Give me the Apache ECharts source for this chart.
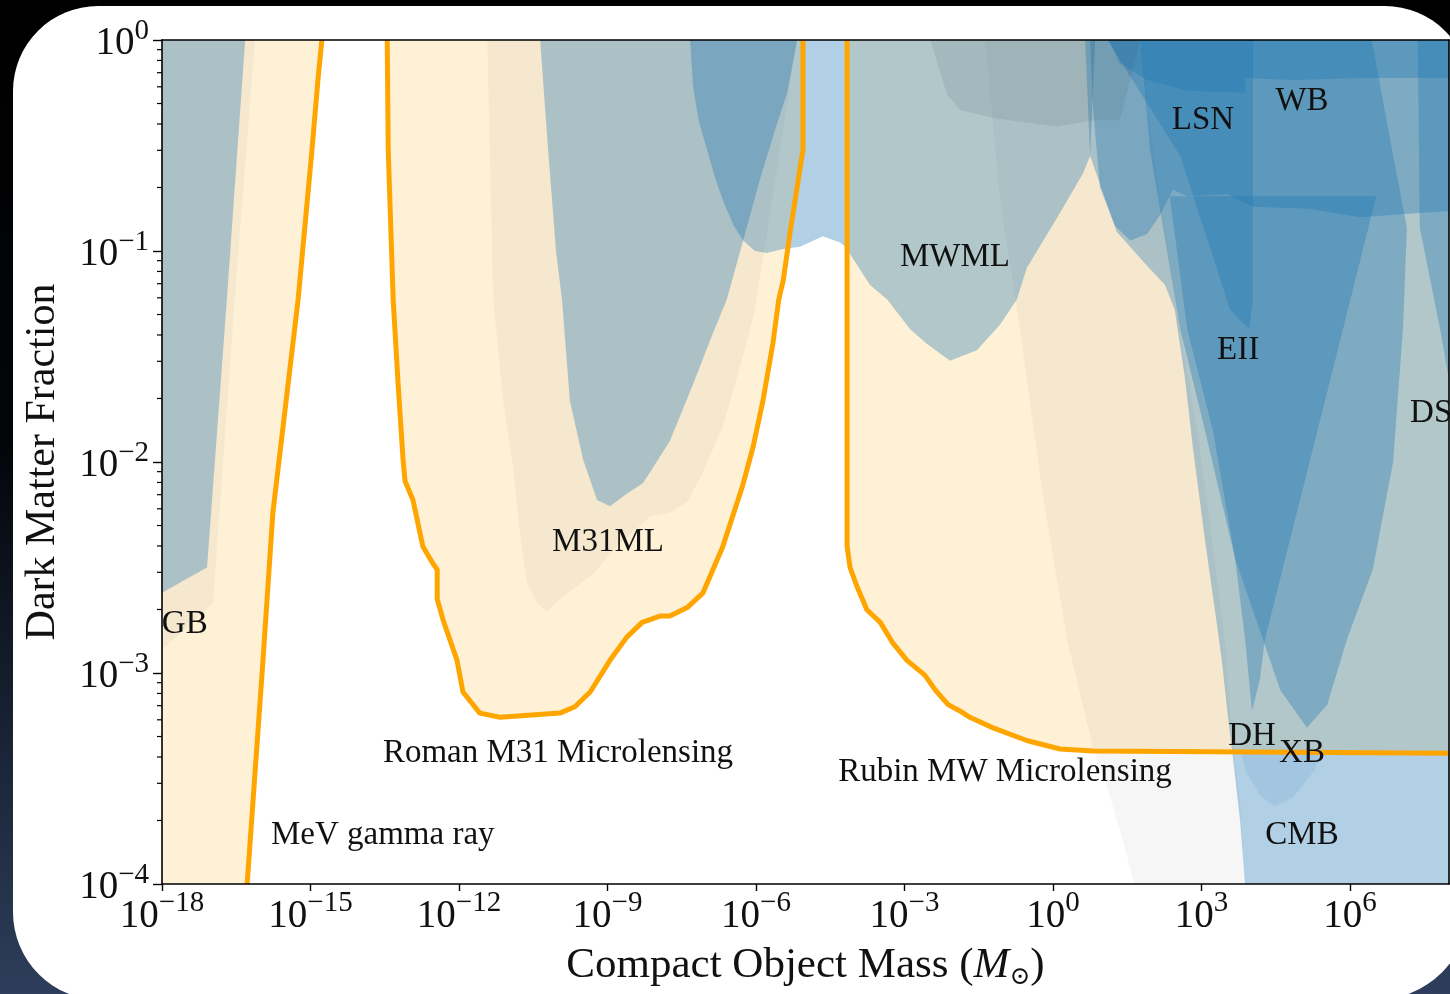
<!DOCTYPE html>
<html><head><meta charset="utf-8">
<script src="https://cdn.jsdelivr.net/npm/echarts@6/dist/echarts.min.js"></script>
<style>html,body{margin:0;padding:0;background:#000;overflow:hidden}#c{width:1450px;height:994px}</style>
</head><body><div id="c"></div>
<script>
// ---- data (log10 of compact-object mass [M_sun], log10 of dark-matter fraction) ----
const xTickValues = [-18, -15, -12, -9, -6, -3, 0, 3, 6];
const yTickValues = [-4, -3, -2, -1, 0];

// projection curves (orange)
const gammaMass = [-16.28, -15.96, -15.76, -15.25, -14.97, -14.85, -14.77];
const gammaFrac = [-4, -2.94, -2.24, -1.23, -0.52, -0.19, 0];

const romanMass = [-13.45, -13.43, -13.33, -13.23, -13.13, -13.09, -12.93, -12.73, -12.53, -12.44, -12.44, -12.32, -12.04, -11.92, -11.58, -11.17, -9.96, -9.66, -9.35, -8.95, -8.61, -8.30, -7.94, -7.74, -7.39, -7.07, -6.67, -6.28, -6.06, -5.86, -5.66, -5.54, -5.45, -5.31, -5.17, -5.05, -5.05];
const romanFrac = [0, -0.52, -1.23, -1.63, -1.99, -2.09, -2.18, -2.40, -2.48, -2.51, -2.65, -2.75, -2.94, -3.09, -3.19, -3.21, -3.19, -3.16, -3.09, -2.94, -2.83, -2.76, -2.73, -2.73, -2.69, -2.62, -2.40, -2.12, -1.93, -1.71, -1.44, -1.23, -1.14, -0.91, -0.70, -0.52, 0];

const rubinMass = [-4.16, -4.16, -4.10, -3.96, -3.76, -3.49, -3.23, -2.95, -2.59, -2.38, -2.12, -1.88, -1.68, -1.21, -0.53, 0.14, 0.81, 8];
const rubinFrac = [0, -2.40, -2.50, -2.59, -2.70, -2.76, -2.86, -2.94, -3.01, -3.08, -3.15, -3.18, -3.21, -3.26, -3.32, -3.36, -3.37, -3.38];

// existing constraints (blue), as [log mass, log fraction] outlines
const regionGB = [[-18, 0], [-16.32, 0], [-16.69, -1.23], [-17.09, -2.50], [-18, -2.62]];
const regionM31ML = [[-10.36, 0], [-10.20, -0.52], [-10.04, -1.0], [-9.92, -1.23], [-9.76, -1.71], [-9.49, -1.99], [-9.21, -2.18], [-8.95, -2.21], [-8.61, -2.15], [-8.28, -2.10], [-7.74, -1.90], [-7.27, -1.63], [-6.87, -1.39], [-6.59, -1.23], [-6.26, -0.95], [-5.92, -0.66], [-5.62, -0.43], [-5.37, -0.25], [-5.17, 0]];
const regionHSC = [[-7.33, 0], [-7.30, -0.12], [-7.27, -0.22], [-7.16, -0.38], [-6.99, -0.52], [-6.83, -0.65], [-6.67, -0.76], [-6.45, -0.88], [-6.26, -0.95], [-6.02, -1.00], [-5.78, -1.01], [-5.45, -0.99], [-5.11, -0.98], [-4.65, -0.93], [-4.30, -0.96], [-4.14, -0.99], [-4.14, 0]];
const regionMWML = [[-4.14, 0], [-4.14, -1.0], [-3.70, -1.16], [-3.35, -1.23], [-2.89, -1.37], [-2.55, -1.44], [-2.08, -1.52], [-1.54, -1.47], [-1.07, -1.35], [-0.73, -1.23], [-0.53, -1.08], [0.14, -0.82], [0.61, -0.63], [0.75, -0.55], [0.85, 0]];
const regionCMB = [[0.65, 0], [0.75, -0.55], [1.29, -0.91], [1.90, -1.07], [2.26, -1.16], [2.46, -1.28], [2.67, -1.61], [2.83, -1.94], [3.07, -2.37], [3.27, -2.70], [3.41, -2.94], [3.54, -3.22], [3.64, -3.41], [3.78, -3.70], [3.88, -4], [8, -4], [8, 0]];
const regionXB = [[1.76, 0], [1.96, -0.52], [2.57, -1.37], [3.07, -1.85], [3.68, -2.46], [4.24, -2.84], [4.59, -3.08], [5.13, -3.26], [5.54, -3.15], [5.94, -2.84], [6.46, -2.51], [6.87, -2.00], [7.07, -1.37], [7.15, -0.89], [6.81, -0.47], [6.44, 0]];
const regionEII = [[2.36, -0.74], [2.71, -1.37], [3.23, -1.85], [3.68, -2.46], [3.88, -2.84], [4.02, -3.18], [4.18, -3.03], [4.28, -2.84], [4.99, -2.18], [5.86, -1.37], [6.53, -0.74]];
const regionLSN = [[1.10, 0], [2.57, -0.55], [3.58, -1.28], [3.96, -1.37], [4.04, -1.23], [4.04, 0]];
const regionWB = [[0.75, 0], [0.81, -0.33], [0.95, -0.70], [1.25, -0.88], [1.56, -0.95], [1.90, -0.92], [2.16, -0.83], [2.42, -0.71], [2.71, -0.74], [3.52, -0.73], [4.04, -0.79], [5.19, -0.80], [6.20, -0.84], [8, -0.81], [8, 0]];
const regionTop = [[1.10, 0], [1.15, -0.01], [1.35, -0.11], [1.90, -0.19], [2.71, -0.24], [3.88, -0.25], [3.88, -0.18], [4.85, -0.19], [6.20, -0.18], [8, -0.18], [8, 0]];
const regionFR = [[7.37, 0], [7.41, -0.89], [7.82, -1.37], [8, -1.61], [8, 0]];
const regionDH = [[3.80, -3.37], [3.88, -3.46], [4.18, -3.58], [4.48, -3.63], [4.85, -3.59], [5.29, -3.46], [5.44, -3.37]];
const regionGrayTop = [[-2.48, 0], [-2.14, -0.26], [-1.88, -0.33], [-1.21, -0.37], [0.08, -0.41], [0.81, -0.38], [1.35, -0.38], [1.76, 0]];

// faint grey projection bands
const bandLeft = [[-18, 0], [-16.12, 0], [-16.53, -1.23], [-16.97, -2.67], [-18, -2.89]];
const bandMid = [[-11.43, 0], [-11.31, -1.23], [-11.11, -1.71], [-10.91, -2.02], [-10.77, -2.34], [-10.63, -2.57], [-10.42, -2.67], [-10.22, -2.71], [-9.96, -2.65], [-9.29, -2.53], [-8.81, -2.40], [-8.14, -2.26], [-7.74, -2.24], [-7.39, -2.19], [-7.07, -2.05], [-6.67, -1.83], [-6.32, -1.55], [-6.02, -1.28], [-5.17, 0]];
const bandRight = [[-1.37, 0], [-1.07, -0.76], [-0.67, -1.37], [-0.20, -2.17], [0.28, -2.84], [0.81, -3.36], [1.09, -3.54], [1.35, -3.74], [1.62, -3.98], [1.62, -4], [3.88, -4], [3.78, -3.60], [3.64, -3.36], [3.47, -2.84], [2.97, -1.94], [2.57, -1.37], [2.16, -0.76], [1.76, 0]];

// text labels
const labelNames = ['GB', 'M31ML', 'MWML', 'LSN', 'WB', 'EII', 'DS', 'DH', 'XB', 'CMB', 'Roman M31 Microlensing', 'Rubin MW Microlensing', 'MeV gamma ray'];
const labelMass = [-17.54, -8.99, -1.98, 3.03, 5.03, 3.74, 7.64, 4.02, 5.03, 5.03, -10.0, -0.97, -13.54];
const labelFrac = [-2.75, -2.36, -1.01, -0.36, -0.27, -1.45, -1.75, -3.28, -3.36, -3.75, -3.36, -3.45, -3.75];

// ---- chart ----
const FONT = '"Liberation Serif", "DejaVu Serif", serif';
const BLUE = 'rgba(31,119,180,0.35)';
const ORANGE_FILL = 'rgba(255,165,0,0.16)';
const GREY_FILL = 'rgba(0,0,0,0.035)';

const minorTickFrac = [];
for (let n = -4; n < 0; n++) for (let k = 2; k <= 9; k++) minorTickFrac.push(n + Math.log10(k));

function zip(a, b) { return a.map((v, i) => [v, b[i]]); }
function poly(name, pts, fill) {
  return {
    type: 'custom', name: name, coordinateSystem: 'cartesian2d', clip: true, silent: true, z: 2,
    data: [pts[0]],
    renderItem: function (params, api) {
      return { type: 'polygon', shape: { points: pts.map(p => api.coord(p)) }, style: { fill: fill } };
    }
  };
}
function line(name, xs, ys) {
  return { type: 'line', name: name, data: zip(xs, ys), showSymbol: false, symbol: 'none', clip: true, z: 5,
    lineStyle: { color: '#ffa500', width: 5, join: 'round' }, silent: true };
}

const gammaPts = [[-18, -4]].concat(zip(gammaMass, gammaFrac), [[-18, 0]]);
const romanPts = zip(romanMass, romanFrac);
const rubinPts = zip(rubinMass, rubinFrac).concat([[8, 0]]);

const sup = v => (v < 0 ? '\u2212' + (-v) : '' + v);
const tickRich = {
  b: { fontFamily: FONT, fontSize: 39, color: '#111', padding: [8, 0, 0, 0] },
  s: { fontFamily: FONT, fontSize: 29, color: '#111', verticalAlign: 'top' }
};

const chart = echarts.init(document.getElementById('c'), null, { renderer: 'canvas' });
chart.setOption({
  animation: false,
  graphic: [
    { type: 'rect', z: -100, shape: { x: 0, y: 0, width: 1450, height: 994 },
      style: { fill: { type: 'linear', x: 0, y: 0, x2: 0, y2: 1, colorStops: [
        { offset: 0, color: '#000000' }, { offset: 0.45, color: '#03050a' }, { offset: 1, color: '#2d3d5b' }] } } },
    { type: 'rect', z: -99, shape: { x: 13, y: 6, width: 1457, height: 994, r: [85, 85, 95, 88] },
      style: { fill: '#ffffff' } }
  ],
  grid: { left: 162, right: 1, top: 40, bottom: 110, show: false, containLabel: false, outerBoundsMode: 'none' },
  xAxis: [
    { type: 'value', min: -18, max: 8, interval: 3, position: 'bottom', z: 10,
      axisLine: { show: true, onZero: false, lineStyle: { color: '#000', width: 1.6 } },
      axisTick: { show: true, length: 7, customValues: xTickValues, lineStyle: { color: '#000', width: 1.4 } },
      splitLine: { show: false },
      axisLabel: { customValues: xTickValues, margin: 5,
        formatter: v => (xTickValues.indexOf(v) >= 0 ? '{b|10}{s|' + sup(v) + '}' : ''), rich: tickRich },
      name: '{n|Compact Object Mass (}{i|M}{u|\u2299}{n|)}', nameLocation: 'middle', nameGap: 57,
      nameTextStyle: { rich: {
        n: { fontFamily: FONT, fontSize: 43, color: '#111' },
        i: { fontFamily: FONT, fontSize: 43, fontStyle: 'italic', color: '#111' },
        u: { fontFamily: '"DejaVu Serif", serif', fontSize: 25, color: '#111', padding: [24, 0, 0, 0] } } } },
    { type: 'value', min: -18, max: 8, position: 'top', z: 10,
      axisLine: { show: true, onZero: false, lineStyle: { color: '#000', width: 1.6 } },
      axisTick: { show: false }, axisLabel: { show: false }, splitLine: { show: false } }
  ],
  yAxis: [
    { type: 'value', min: -4, max: 0, interval: 1, position: 'left', z: 10,
      axisLine: { show: true, onZero: false, lineStyle: { color: '#000', width: 1.6 } },
      axisTick: { show: true, length: 9, customValues: yTickValues, lineStyle: { color: '#000', width: 1.4 } },
      splitLine: { show: false },
      axisLabel: { margin: 13, formatter: v => '{b|10}{s|' + sup(v) + '}', rich: tickRich },
      name: 'Dark Matter Fraction', nameLocation: 'middle', nameRotate: 90, nameGap: 98,
      nameTextStyle: { fontFamily: FONT, fontSize: 42, color: '#111' } },
    { type: 'value', min: -4, max: 0, position: 'right', z: 10,
      axisLine: { show: true, onZero: false, lineStyle: { color: '#000', width: 1.6 } },
      axisTick: { show: false }, axisLabel: { show: false }, splitLine: { show: false } }
  ],
  series: [
    poly('MeV gamma ray fill', gammaPts, ORANGE_FILL),
    poly('Roman fill', romanPts, ORANGE_FILL),
    poly('Rubin fill', rubinPts, ORANGE_FILL),
    poly('band left', bandLeft, GREY_FILL),
    poly('band mid', bandMid, GREY_FILL),
    poly('band right', bandRight, GREY_FILL),
    poly('GB', regionGB, BLUE),
    poly('M31ML', regionM31ML, BLUE),
    poly('HSC', regionHSC, BLUE),
    poly('MWML', regionMWML, BLUE),
    poly('CMB', regionCMB, BLUE),
    poly('XB', regionXB, BLUE),
    poly('EII', regionEII, BLUE),
    poly('LSN', regionLSN, BLUE),
    poly('WB', regionWB, BLUE),
    poly('Top', regionTop, BLUE),
    poly('FR', regionFR, BLUE),
    poly('DH', regionDH, 'rgba(31,119,180,0.10)'),
    poly('grey top', regionGrayTop, 'rgba(50,65,75,0.10)'),
    line('MeV gamma ray', gammaMass, gammaFrac),
    line('Roman M31 Microlensing', romanMass, romanFrac),
    line('Rubin MW Microlensing', rubinMass, rubinFrac),
    { type: 'custom', name: 'minor ticks', coordinateSystem: 'cartesian2d', clip: false, silent: true, z: 11,
      data: minorTickFrac.map(v => [-18, v]),
      renderItem: function (params, api) {
        const p = api.coord([api.value(0), api.value(1)]);
        return { type: 'line', shape: { x1: p[0] - 5, y1: p[1], x2: p[0], y2: p[1] }, style: { stroke: '#000', lineWidth: 1.2 } };
      } },
    { type: 'custom', name: 'labels', coordinateSystem: 'cartesian2d', clip: false, silent: true, z: 12,
      data: zip(labelMass, labelFrac),
      renderItem: function (params, api) {
        const p = api.coord([api.value(0), api.value(1)]);
        return { type: 'text', x: p[0], y: p[1] + 4,
          style: { text: labelNames[params.dataIndex], font: '33px ' + FONT, fill: '#111', align: 'center', verticalAlign: 'middle' } };
      } }
  ]
});
</script></body></html>
